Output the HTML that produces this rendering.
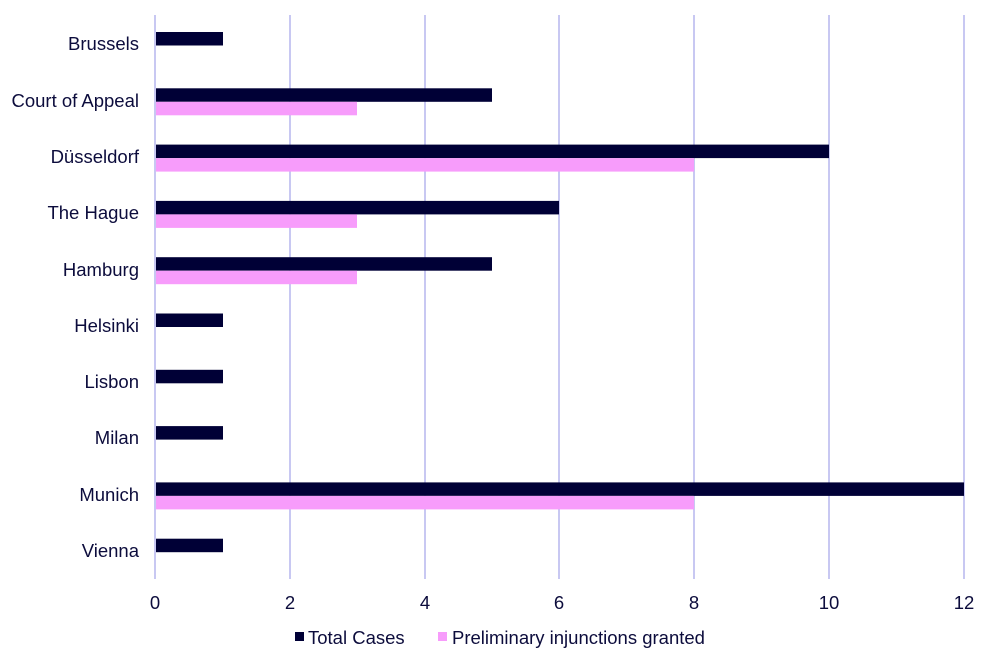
<!DOCTYPE html>
<html><head><style>body{margin:0;background:#fff}svg{display:block}text{font-family:"Liberation Sans",sans-serif;fill:#0c0c3c;font-size:18.5px}</style></head>
<body>
<svg width="992" height="661" xmlns="http://www.w3.org/2000/svg">
<g stroke="#c8c8f2" stroke-width="2">
<line x1="155" y1="15" x2="155" y2="579"/>
<line x1="290" y1="15" x2="290" y2="579"/>
<line x1="425" y1="15" x2="425" y2="579"/>
<line x1="559" y1="15" x2="559" y2="579"/>
<line x1="694" y1="15" x2="694" y2="579"/>
<line x1="829" y1="15" x2="829" y2="579"/>
<line x1="964" y1="15" x2="964" y2="579"/>
</g>
<g fill="#000036">
<rect x="156" y="32" width="67" height="13.5"/>
<rect x="156" y="88.3" width="336" height="13.5"/>
<rect x="156" y="144.6" width="673" height="13.5"/>
<rect x="156" y="200.9" width="403" height="13.5"/>
<rect x="156" y="257.2" width="336" height="13.5"/>
<rect x="156" y="313.5" width="67" height="13.5"/>
<rect x="156" y="369.8" width="67" height="13.5"/>
<rect x="156" y="426.1" width="67" height="13.5"/>
<rect x="156" y="482.4" width="808" height="13.5"/>
<rect x="156" y="538.7" width="67" height="13.5"/>
</g>
<g fill="#f79cfb">
<rect x="156" y="101.8" width="201" height="13.5"/>
<rect x="156" y="158.1" width="538" height="13.5"/>
<rect x="156" y="214.4" width="201" height="13.5"/>
<rect x="156" y="270.7" width="201" height="13.5"/>
<rect x="156" y="495.9" width="538" height="13.5"/>
</g>
<g text-anchor="end">
<text x="139" y="50">Brussels</text>
<text x="139" y="107">Court of Appeal</text>
<text x="139" y="163">Düsseldorf</text>
<text x="139" y="219">The Hague</text>
<text x="139" y="276">Hamburg</text>
<text x="139" y="332">Helsinki</text>
<text x="139" y="388">Lisbon</text>
<text x="139" y="444">Milan</text>
<text x="139" y="501">Munich</text>
<text x="139" y="557">Vienna</text>
</g>
<g text-anchor="middle">
<text x="155" y="609">0</text>
<text x="290" y="609">2</text>
<text x="425" y="609">4</text>
<text x="559" y="609">6</text>
<text x="694" y="609">8</text>
<text x="829" y="609">10</text>
<text x="964" y="609">12</text>
</g>
<rect x="295" y="632" width="9" height="9" fill="#000036"/>
<text x="308" y="644">Total Cases</text>
<rect x="438" y="632" width="9" height="9" fill="#f79cfb"/>
<text x="452" y="644">Preliminary injunctions granted</text>
</svg>
</body></html>
